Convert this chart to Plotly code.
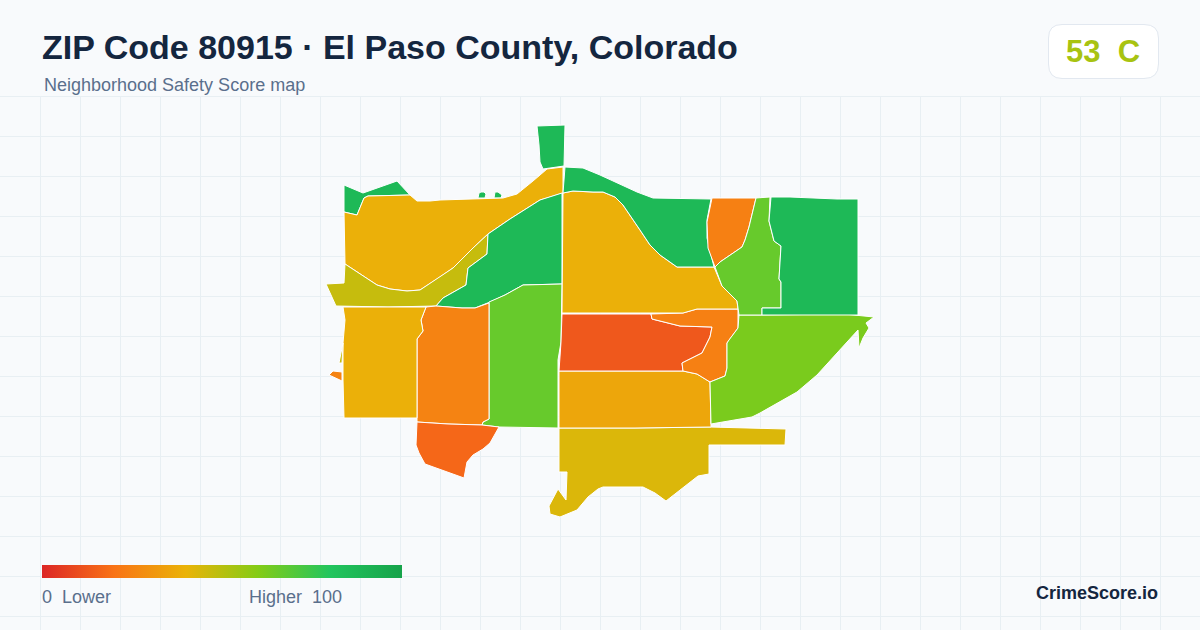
import plotly.graph_objects as go
from plotly.colors import sample_colorscale

# boundaries, in picture pixels
north_stub = [(537,126),(565,125),(564,166),(550,168),(543,169),(540,162),(539,145)]
nw_green = [(344,185),(363,193),(397,181),(410,195),(368,196),(364,198),(357,215),(344,212)]
dot_a = [(478,198),(479,193),(481,192),(484,192),(486,194),(485,198)]
dot_b = [(494,198),(495,192),(498,192),(502,195),(501,198)]
nw_amber = [(344,212),(357,215),(364,198),(368,196),(410,195),(417,201),(430,201),(440,200),(503,198),
            (517,194),(533,181),(547,169),(563,167),(563,193),(547,198),(540,200),(510,219),(488,234),
            (473,248),(453,268),(440,277),(420,290),(407,291),(390,289),(377,285),(360,274),(345,264)]
olive_band = [(345,264),(360,274),(377,285),(390,289),(407,291),(420,290),(440,277),(453,268),(473,248),
              (488,234),(487,254),(468,268),(466,285),(443,298),(436,306),(388,307),(336,306),(326,284),
              (344,283)]
mid_green = [(488,234),(510,219),(540,200),(547,198),(562,193),(562,284),(523,285),(505,295),(490,302),
             (475,308),(462,308),(436,306),(443,298),(466,285),(468,268),(487,254)]
center_lime = [(489,302),(505,295),(523,285),(562,284),(561,342),(558,360),(558,428),(499,427),(482,425),
               (483,422),(489,419)]
west_orange = [(436,306),(462,308),(475,308),(489,303),(489,419),(483,422),(482,425),(448,424),(417,422),
               (417,339),(423,331),(421,320),(426,307)]
west_amber = [(343,307),(388,307),(426,307),(421,320),(423,331),(417,339),(417,418),(380,418),(344,418),
              (343,380),(343,343),(345,320)]
sliver = [(343,343),(339,363),(342,363)]
west_chip = [(333,371),(329,375),(342,381),(342,372)]
south_orange = [(417,422),(448,424),(482,425),(499,427),(490,443),(483,449),(473,455),(467,462),(464,478),
                (425,464),(419,453),(416,445)]
south_yellow = [(559,428),(635,428),(710,427),(748,428),(786,429),(785,445),(709,445),(709,474),(698,476),
                (666,501),(655,493),(643,487),(603,487),(598,489),(588,497),(577,510),(560,517),(550,514),
                (549,506),(558,489),(566,500),(567,472),(559,472)]
mid_amber = [(559,371),(623,371),(683,371),(697,374),(710,382),(711,427),(635,428),(559,428)]
red_block = [(562,314),(651,314),(652,319),(680,326),(712,327),(710,337),(702,353),(682,363),(683,371),
             (559,371),(561,342)]
east_orange = [(651,314),(683,313),(697,309),(738,309),(738,328),(729,340),(727,343),(727,368),(725,376),
               (710,382),(697,374),(683,371),(682,363),(702,353),(710,337),(712,327),(680,326),(652,319)]
se_lime = [(739,315),(762,315),(844,314),(874,317),(866,323),(869,328),(863,338),(859,348),(858,330),
           (833,357),(817,375),(797,392),(780,402),(760,413),(752,417),(711,424),(710,382),(725,376),
           (727,368),(727,343),(729,340),(738,328)]
central_amber = [(563,193),(573,191),(593,192),(603,192),(615,197),(623,205),(640,230),(650,245),(660,255),
                 (677,267),(714,267),(722,286),(737,301),(738,309),(697,309),(683,313),(562,313)]
north_green = [(565,167),(583,168),(600,175),(637,192),(653,198),(711,199),(707,220),(707,238),(714,267),
               (677,267),(660,255),(650,245),(640,230),(623,205),(615,197),(603,192),(593,192),(573,191),(563,193)]
ne_orange = [(712,198),(756,198),(749,227),(745,240),(742,247),(720,262),(715,267),(708,248),(707,222)]
ne_lime = [(756,198),(770,197),(769,221),(774,241),(781,246),(779,279),(781,282),(781,308),(762,308),
           (762,315),(739,315),(738,309),(737,301),(722,286),(715,267),(720,262),(742,247),(745,240),(749,227)]
east_green = [(771,197),(790,197),(837,199),(858,199),(858,315),(762,315),(762,308),(781,308),(781,282),
              (779,279),(781,246),(774,241),(769,221)]

regions = [north_stub, nw_green, dot_a, dot_b, nw_amber, olive_band, mid_green, center_lime, west_orange,
           west_amber, sliver, west_chip, south_orange, south_yellow, mid_amber, red_block, east_orange,
           se_lime, central_amber, north_green, ne_orange, ne_lime, east_green]
scores = [87, 87, 87, 87, 39, 47, 87, 66, 25, 39, 47, 25, 17, 43, 36, 13, 24, 62, 39, 87, 24, 66, 87]

overall_score = 53
overall_grade = "C"

scale_stops = [0, 20, 40, 60, 80, 100]
scale_colors = ["#dc2626", "#f97316", "#eab308", "#84cc16", "#22c55e", "#16a34a"]
colorscale = [[s / 100, c] for s, c in zip(scale_stops, scale_colors)]

fig = go.Figure()

# background grid, starts under the header
for gx in range(40, 1200, 40):
    fig.add_shape(type="line", x0=gx + 0.5, x1=gx + 0.5, y0=96, y1=630, layer="below",
                  line=dict(color="#e8eff3", width=1))
for gy in range(96, 630, 40):
    fig.add_shape(type="line", x0=0, x1=1200, y0=gy + 0.5, y1=gy + 0.5, layer="below",
                  line=dict(color="#e8eff3", width=1))

for pts, score in zip(regions, scores):
    xs = [p[0] for p in pts] + [pts[0][0]]
    ys = [p[1] for p in pts] + [pts[0][1]]
    fig.add_trace(go.Scatter(x=xs, y=ys, mode="lines", fill="toself",
                             fillcolor=sample_colorscale(colorscale, score / 100)[0],
                             line=dict(color="#ffffff", width=1), hoverinfo="skip", showlegend=False))

# legend bar is the colorbar of a trace kept outside the visible range
fig.add_trace(go.Scatter(x=[-50] * len(scale_stops), y=[-50] * len(scale_stops), mode="markers",
                         hoverinfo="skip", showlegend=False,
                         marker=dict(color=scale_stops, cmin=0, cmax=100, colorscale=colorscale, showscale=True,
                                     colorbar=dict(orientation="h", lenmode="pixels", len=360,
                                                   thicknessmode="pixels", thickness=13,
                                                   x=42 / 1200, xanchor="left", xref="container",
                                                   y=1 - 578 / 630, yanchor="bottom", yref="container",
                                                   xpad=0, ypad=0, outlinewidth=0, borderwidth=0,
                                                   ticks="", showticklabels=False))))

# grade badge
fig.add_shape(type="path", layer="below", fillcolor="#ffffff", line=dict(color="#e2e8f0", width=1),
              path="M 1062 24.5 H 1144 Q 1158.5 24.5 1158.5 38 V 64 Q 1158.5 78.5 1144 78.5 H 1062 "
                   "Q 1048.5 78.5 1048.5 64 V 38 Q 1048.5 24.5 1062 24.5 Z")


def label(x, y, text, size, color, bold=False, anchor="left"):
    fig.add_annotation(x=x, y=y, text=f"<b>{text}</b>" if bold else text, showarrow=False, xanchor=anchor,
                       yanchor="middle", borderpad=0, borderwidth=0,
                       font=dict(family="Liberation Sans", size=size, color=color))


label(42, 47, "ZIP Code 80915 · El Paso County, Colorado", 34, "#14263f", bold=True)
label(43.5, 85, "Neighborhood Safety Score map", 18, "#5a6f8c")
label(1103, 51, f"{overall_score}\u00a0\u00a0{overall_grade}", 31,
      sample_colorscale(colorscale, overall_score / 100)[0], bold=True, anchor="center")
label(41.5, 597, "0\u00a0\u00a0Lower", 18, "#5a6f8c")
label(248.5, 597, "Higher\u00a0\u00a0100", 18, "#5a6f8c")
label(1158, 593, "CrimeScore.io", 18, "#14263f", bold=True, anchor="right")

fig.update_layout(width=1200, height=630, margin=dict(l=0, r=0, t=0, b=0, autoexpand=False),
                  paper_bgcolor="#f8fafc", plot_bgcolor="#f8fafc",
                  xaxis=dict(range=[0, 1200], visible=False, fixedrange=True),
                  yaxis=dict(range=[630, 0], visible=False, fixedrange=True))

fig.write_html("out.html", config=dict(displayModeBar=False),
               post_script="document.body.style.margin='0';")
